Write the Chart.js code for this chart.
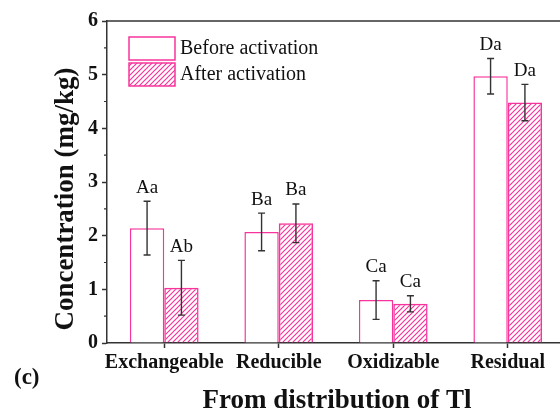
<!DOCTYPE html>
<html>
<head>
<meta charset="utf-8">
<script src="https://cdn.jsdelivr.net/npm/chart.js@4.4.1/dist/chart.umd.min.js"></script>
<style>
html, body { margin: 0; padding: 0; background: #fff; overflow: hidden; }
#wrap { width: 566px; height: 410px; }
</style>
</head>
<body>
<div id="wrap"><canvas id="chart" width="566" height="410"></canvas></div>
<script>
// Datos
const fractions = ['Exchangeable', 'Reducible', 'Oxidizable', 'Residual'];
const beforeValues = [2.14, 2.07, 0.80, 4.97];
const beforeErrors = [0.50, 0.35, 0.36, 0.33];
const afterValues = [1.03, 2.23, 0.73, 4.48];
const afterErrors = [0.51, 0.36, 0.15, 0.34];
const beforeLetters = ['Aa', 'Ba', 'Ca', 'Da'];
const afterLetters = ['Ab', 'Ba', 'Ca', 'Da'];
const seriesNames = ['Before activation', 'After activation'];
const yMin = 0, yMax = 6, yStep = 1;

const pink = '#f7349b';
const axisColor = '#333';
const serif = '"Liberation Serif", "Times New Roman", serif';

// patron rayado para "After"
function makeHatch() {
  const c = document.createElement('canvas');
  c.width = 5; c.height = 5;
  const g = c.getContext('2d');
  g.strokeStyle = pink;
  g.lineWidth = 1.2;
  g.beginPath();
  g.moveTo(-1, 6); g.lineTo(6, -1);
  g.moveTo(-1, 1); g.lineTo(1, -1);
  g.moveTo(4, 6); g.lineTo(6, 4);
  g.stroke();
  return g.createPattern(c, 'repeat');
}
const hatch = makeHatch();

const errors = [beforeErrors, afterErrors];
const letters = [beforeLetters, afterLetters];

// barras de error, letras, leyenda y titulos
const extras = {
  id: 'extras',
  afterDatasetsDraw(chart) {
    const ctx = chart.ctx;
    const ys = chart.scales.y;
    chart.data.datasets.forEach(function(ds, i) {
      const meta = chart.getDatasetMeta(i);
      meta.data.forEach(function(bar, j) {
        const v = ds.data[j], e = errors[i][j];
        const top = ys.getPixelForValue(v + e);
        const bot = ys.getPixelForValue(v - e);
        ctx.save();
        ctx.strokeStyle = axisColor;
        ctx.lineWidth = 1.4;
        ctx.beginPath();
        ctx.moveTo(bar.x, top); ctx.lineTo(bar.x, bot);
        ctx.moveTo(bar.x - 3.5, top); ctx.lineTo(bar.x + 3.5, top);
        ctx.moveTo(bar.x - 3.5, bot); ctx.lineTo(bar.x + 3.5, bot);
        ctx.stroke();
        ctx.fillStyle = '#111';
        ctx.font = '19px ' + serif;
        ctx.textAlign = 'center';
        ctx.textBaseline = 'bottom';
        ctx.fillText(letters[i][j], bar.x, top - 4);
        ctx.restore();
      });
    });
  },
  afterDraw(chart) {
    const ctx = chart.ctx;
    const a = chart.chartArea;
    const ys = chart.scales.y;
    ctx.save();
    // marco superior
    ctx.strokeStyle = axisColor;
    ctx.lineWidth = 1.5;
    ctx.beginPath();
    ctx.moveTo(a.left, a.top); ctx.lineTo(a.right, a.top);
    ctx.stroke();
    // ticks menores
    ctx.lineWidth = 1.2;
    ctx.beginPath();
    for (let v = yMin + yStep / 2; v < yMax; v += yStep) {
      const y = ys.getPixelForValue(v);
      ctx.moveTo(a.left - 3, y); ctx.lineTo(a.left, y);
    }
    ctx.stroke();

    // leyenda
    const fills = ['#ffffff', hatch];
    ctx.font = '20px ' + serif;
    ctx.textBaseline = 'middle';
    ctx.textAlign = 'left';
    seriesNames.forEach(function(name, i) {
      const bx = 129, by = 37 + i * 26;
      ctx.fillStyle = fills[i];
      ctx.fillRect(bx, by, 46, 23);
      ctx.strokeStyle = pink;
      ctx.lineWidth = 1.5;
      ctx.strokeRect(bx, by, 46, 23);
      ctx.fillStyle = '#111';
      ctx.fillText(name, bx + 51, by + 12);
    });

    // titulos de ejes
    ctx.fillStyle = '#111';
    ctx.font = 'bold 27px ' + serif;
    ctx.textAlign = 'center';
    ctx.textBaseline = 'middle';
    ctx.save();
    ctx.translate(66, 199);
    ctx.rotate(-Math.PI / 2);
    ctx.fillText('Concentration (mg/kg)', 0, 0);
    ctx.restore();
    ctx.font = 'bold 27px ' + serif;
    ctx.textBaseline = 'alphabetic';
    ctx.fillText('From distribution of Tl', 337, 408);
    ctx.font = 'bold 23px ' + serif;
    ctx.textAlign = 'left';
    ctx.fillText('(c)', 14, 384);
    ctx.restore();
  }
};

new Chart(document.getElementById('chart'), {
  type: 'bar',
  data: {
    labels: fractions,
    datasets: [{
      label: seriesNames[0],
      data: beforeValues,
      backgroundColor: '#ffffff',
      borderColor: pink,
      borderWidth: 1.5,
      borderSkipped: 'bottom'
    }, {
      label: seriesNames[1],
      data: afterValues,
      backgroundColor: hatch,
      borderColor: pink,
      borderWidth: 1.5,
      borderSkipped: 'bottom'
    }]
  },
  options: {
    responsive: false,
    animation: false,
    layout: { padding: { top: 21, right: 1, left: 0, bottom: 0 } },
    datasets: { bar: { categoryPercentage: 0.6, barPercentage: 1.0 } },
    plugins: {
      legend: { display: false },
      tooltip: { enabled: false }
    },
    scales: {
      x: {
        afterFit: function(scale) { scale.height = 67; },
        grid: {
          offset: false,
          drawOnChartArea: false,
          tickLength: 5,
          tickColor: axisColor,
          tickWidth: 1.5
        },
        border: { color: axisColor, width: 1.5 },
        ticks: {
          color: '#111',
          padding: 3,
          maxRotation: 0,
          autoSkip: false,
          font: { family: serif, size: 20, weight: 'bold' }
        }
      },
      y: {
        min: yMin,
        max: yMax,
        afterFit: function(scale) { scale.width = 107; },
        grid: {
          drawOnChartArea: false,
          tickLength: 5,
          tickColor: axisColor,
          tickWidth: 1.5
        },
        border: { color: axisColor, width: 1.5 },
        ticks: {
          stepSize: yStep,
          color: '#111',
          padding: 4,
          font: { family: serif, size: 20, weight: 'bold' }
        }
      }
    }
  },
  plugins: [extras]
});
</script>
</body>
</html>
